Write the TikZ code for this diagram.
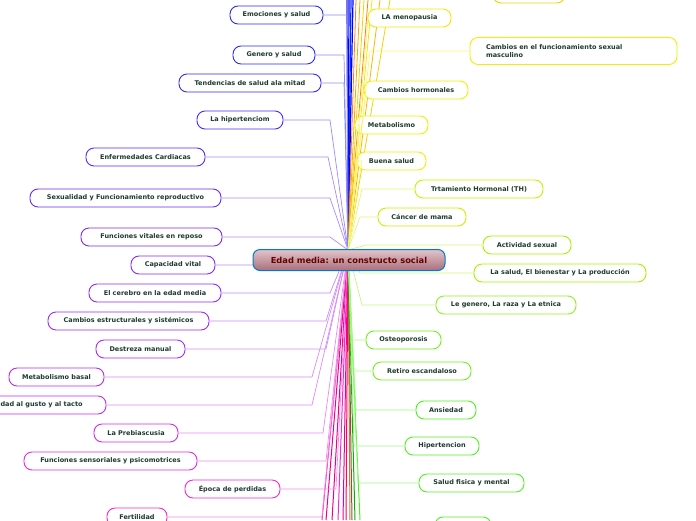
\documentclass[tikz,border=0pt]{standalone}
\usepackage{fontspec}
\setmainfont{DejaVu Sans}
\begin{document}
\begin{tikzpicture}[x=1pt,y=-1pt,
 tb/.style={draw=#1,line width=0.9pt,rounded corners=8pt,fill=white,minimum height=18pt,inner sep=2pt,font=\fontsize{6.5}{7.5}\selectfont\bfseries,text=txt},
 cn/.style={draw=#1!55,line width=0.7pt}]
\definecolor{txt}{HTML}{1E3A2E}
\definecolor{cA}{HTML}{2B2BF0}\definecolor{cB}{HTML}{3A2BF0}\definecolor{cC}{HTML}{4A2BF0}
\definecolor{cD}{HTML}{5A2BF0}\definecolor{cE}{HTML}{6A2BF0}\definecolor{cF}{HTML}{7A2BF0}
\definecolor{cG}{HTML}{862BF0}\definecolor{cH}{HTML}{922BF0}\definecolor{cI}{HTML}{9E2BF0}
\definecolor{cJ}{HTML}{AA2BF0}\definecolor{cK}{HTML}{B62BF0}\definecolor{cL}{HTML}{C42BF0}
\definecolor{cM}{HTML}{D42BEA}\definecolor{cN}{HTML}{E22BE2}\definecolor{cO}{HTML}{EE2BD6}
\definecolor{cP}{HTML}{F22BC8}
\definecolor{yA}{HTML}{F5D000}\definecolor{yB}{HTML}{F5E800}\definecolor{yC}{HTML}{F0F000}
\definecolor{gA}{HTML}{C8F000}\definecolor{gB}{HTML}{A8F000}\definecolor{gC}{HTML}{90F020}
\definecolor{gD}{HTML}{70F020}\definecolor{gE}{HTML}{50F020}
\definecolor{ctop}{HTML}{E2C4CA}\definecolor{cbot}{HTML}{A8707C}
\useasboundingbox (0,0) rectangle (696,520);
\coordinate (hub) at (348,250);
% bundles to off-canvas nodes
\foreach \x/\c in {349/blue,351/blue!80!cyan,353/blue,347/cA}{\draw[\c,line width=1.2pt] (hub) -- (\x,0);}
\foreach \x/\c in {356/orange,360/orange!70!yellow,364/yA,368/orange,372/yB,380/orange!60!yellow,390/yA}{\draw[\c,line width=0.8pt] (hub) -- (\x,0);}
\foreach \x/\c in {322/cP,326/magenta,332/magenta,338/cO,343/magenta,346/red!60!magenta,350/brown,352/brown!70!black,355/green!70!black,360/gE}{\draw[\c,line width=1pt] (hub) -- (\x,520);}
% left nodes
\node[tb=cA,minimum width=93pt] (l1) at (276.5,15) {Emociones y salud};
\node[tb=cA,minimum width=82pt] (l2) at (274,55) {Genero y salud};
\node[tb=cB,minimum width=142pt] (l3) at (250,83) {Tendencias de salud ala mitad};
\node[tb=cC,minimum width=86pt] (l4) at (240,120) {La hipertenciom};
\node[tb=cD,minimum width=119pt] (l5) at (145.5,157) {Enfermedades Cardiacas};
\node[tb=cE,minimum width=191pt] (l6) at (125.5,198) {Sexualidad y Funcionamiento reproductivo};
\node[tb=cF,minimum width=141pt] (l7) at (151.5,237) {Funciones vitales en reposo};
\node[tb=cG,minimum width=84pt] (l8) at (173,265) {Capacidad vital};
\node[tb=cH,minimum width=132pt] (l9) at (155,293) {El cerebro en la edad media};
\node[tb=cI,minimum width=161pt] (l10) at (128.5,321) {Cambios estructurales y sistémicos};
\node[tb=cJ,minimum width=89pt] (l11) at (140.5,349) {Destreza manual};
\node[tb=cK,minimum width=95pt] (l12) at (56.5,377) {Metabolismo basal};
\node[tb=cL,minimum width=160pt] (l13) at (26,405) {Sensibilidad al gusto y al tacto};
\node[tb=cM,minimum width=84pt] (l14) at (136,433) {La Prebiascusia};
\node[tb=cN,minimum width=173pt] (l15) at (110.5,461) {Funciones sensoriales y psicomotrices};
\node[tb=cO,minimum width=95pt] (l16) at (232.5,489) {Época de perdidas};
\node[tb=cP,minimum width=60pt] (l17) at (137,517) {Fertilidad};
\foreach \n/\b/\c in {l1/347/cA,l2/344/cA,l3/344/cB,l4/330/cC,l5/328/cD,l6/330/cE,l7/330/cF,l8/333/cG,l9/330/cH,l10/326/cI,l11/326/cJ,l12/312/cK,l13/312/cL,l14/323/cM,l15/326/cN,l16/336/cO,l17/322/cP}{
 \draw[cn=\c] (hub) -- (\b,0 |- \n.east) -- (\n.east);}
% right nodes
\node[tb=yA,minimum width=72pt] (r0) at (529,-6) {};
\node[tb=yB,minimum width=83pt] (r1) at (409.5,18) {LA menopausia};
\node[tb=yC,minimum width=207pt,minimum height=27pt,text width=175pt,align=left] (r2) at (573.5,51) {Cambios en el funcionamiento sexual\\masculino};
\node[tb=yC,minimum width=104pt] (r3) at (416,90) {Cambios hormonales};
\node[tb=yC,minimum width=73pt] (r4) at (391.5,125) {Metabolismo};
\node[tb=yC,minimum width=69pt] (r5) at (391.5,161) {Buena salud};
\node[tb=gA,minimum width=128pt] (r6) at (479,189) {Trtamiento Hormonal (TH)};
\node[tb=gA,minimum width=88pt] (r7) at (422,217) {Cáncer de mama};
\node[tb=gB,minimum width=88pt] (r8) at (527,245) {Actividad sexual};
\node[tb=gB,minimum width=172pt] (r9) at (560,273) {La salud, El bienestar y La producción};
\node[tb=gC,minimum width=140pt] (r10) at (506,305) {Le genero, La raza y La etnica};
\node[tb=gD,minimum width=75pt] (r11) at (403.5,340) {Osteoporosis};
\node[tb=gD,minimum width=98pt] (r12) at (422,371) {Retiro escandaloso};
\node[tb=gE,minimum width=60pt] (r13) at (446,410) {Ansiedad};
\node[tb=gE,minimum width=74pt] (r14) at (442,446) {Hipertencion};
\node[tb=gE,minimum width=105pt] (r15) at (471.5,483) {Salud fisica y mental};
\node[tb=gE,minimum width=56pt] (r16) at (463,526) {};
\foreach \n/\b/\c in {r1/368/yB,r2/370/yC,r3/366/yC,r4/360/yC,r5/362/yC,r6/362/gA,r7/360/gA,r8/366/gB,r9/360/gB,r10/362/gC,r11/352/gD,r12/352/gD,r13/356/gE,r14/354/gE,r15/358/gE}{
 \draw[cn=\c] (hub) -- (\b,0 |- \n.west) -- (\n.west);}
% central
\node[draw=blue!40!cyan!80!black,line width=1pt,rounded corners=7pt,top color=ctop,bottom color=cbot,minimum width=192pt,minimum height=21pt,font=\fontsize{8.3}{10}\selectfont\bfseries,text=red!40!black] (c) at (349,260) {Edad media: un constructo social};
\end{tikzpicture}
\end{document}
